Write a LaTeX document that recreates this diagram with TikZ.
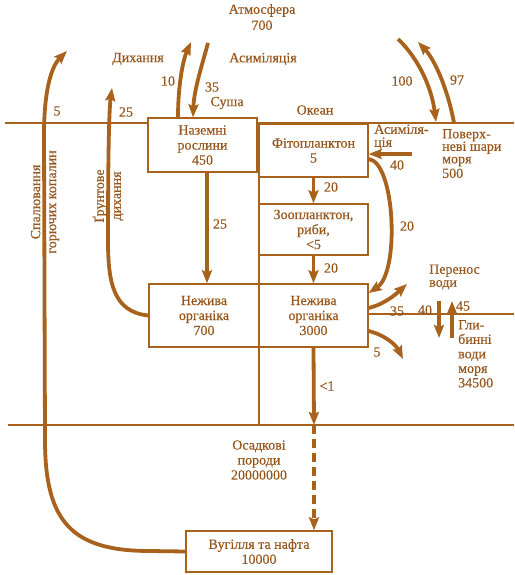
\documentclass[tikz,border=0pt]{standalone}
\usepackage{fontspec}
\setmainfont[FakeBold=0.4]{Liberation Serif}
\usetikzlibrary{arrows.meta}
\definecolor{lc}{RGB}{168,98,28}
\definecolor{tc}{RGB}{150,86,28}
\begin{document}
\begin{tikzpicture}[x=1pt,y=-1pt,
  font=\fontsize{14}{15}\selectfont,
  box/.style={draw=lc,line width=1.3pt,fill=white,align=center,inner sep=0pt,text=tc},
  lbl/.style={text=tc,inner sep=0pt,align=center},
  thinline/.style={draw=lc,line width=1.3pt},
  flow/.style={draw=lc,line width=3.8pt,-{Stealth[length=13pt,width=10pt,inset=2pt]}},
  dflow/.style={flow,dash pattern=on 9pt off 5pt}]
\useasboundingbox (0,0) rectangle (514,575);
% frame lines
\draw[thinline] (5,123) -- (514,123);
\draw[thinline] (259,123) -- (259,425);
\draw[thinline] (8,425) -- (514,425);
\draw[thinline] (368,314) -- (514,314);
% boxes
\node[box,minimum width=109pt,minimum height=54pt] (land) at (202.5,145) {Наземні\\рослини\\450};
\node[box,minimum width=109pt,minimum height=53pt] (phyto) at (313.5,150.5) {Фітопланктон\\5};
\node[box,minimum width=109pt,minimum height=51pt] (zoo) at (313.5,229.5) {Зоопланктон,\\риби,\\<5};
\node[box,minimum width=109pt,minimum height=63pt] (nlo) at (313.5,315.5) {Нежива\\органіка\\3000};
\node[box,minimum width=110pt,minimum height=63pt] (nll) at (204,315.5) {Нежива\\органіка\\700};
\node[box,minimum width=146pt,minimum height=41pt] (coal) at (259,551.5) {Вугілля та нафта\\10000};
% free-end coordinates
\coordinate (a10) at (191,42);
\coordinate (a35) at (208,43);
\coordinate (o100s) at (398,39);
\coordinate (o100e) at (436,122);
\coordinate (o97s) at (454,123);
\coordinate (o97e) at (418,42);
\coordinate (as40) at (412,154);
\coordinate (sed) at (314,425);
\coordinate (up35) at (407,284);
\coordinate (dn5) at (403,359);
\coordinate (w40s) at (439,301);
\coordinate (w40e) at (439,338);
\coordinate (w45s) at (452,338);
\coordinate (w45e) at (452,301);
\coordinate (soil) at (112,88);
\coordinate (burn) at (67,51);
% flows
\draw[flow] ([xshift=-24.5pt]land.north) .. controls (178,85) and (183,60) .. (a10);
\draw[flow] (a35) .. controls (202,65) and (194,90) .. ([xshift=-9.5pt]land.north);
\draw[flow] (o100s) .. controls (420,60) and (432,90) .. (o100e);
\draw[flow] (o97s) .. controls (448,90) and (435,60) .. (o97e);
\draw[flow] ([xshift=4.5pt]land.south) -- ([xshift=3pt]nll.north);
\draw[flow] (phyto.south) -- (zoo.north);
\draw[flow] (zoo.south) -- (nlo.north);
\draw[flow] (nlo.south) -- (sed);
\draw[dflow] (sed) -- ([xshift=55pt]coal.north);
\draw[flow] (as40) -- ([yshift=-3.5pt]phyto.east);
\draw[flow] ([yshift=-8.5pt]phyto.east) .. controls (395,162) and (400,272) .. ([yshift=22.5pt]nlo.east);
\draw[flow] ([yshift=7.5pt]nlo.east) .. controls (385,304) and (396,294) .. (up35);
\draw[flow] ([yshift=-15.5pt]nlo.east) .. controls (385,335) and (396,345) .. (dn5);
\draw[flow] (w40s) -- (w40e);
\draw[flow] (w45s) -- (w45e);
\draw[flow] (nll.west) .. controls (113,312) and (108,282) .. (108,240) .. controls (108,160) and (109,110) .. (soil);
\draw[flow] (coal.west) -- (150,551) .. controls (72,551) and (45,522) .. (45,440) -- (44,135) .. controls (44,95) and (50,68) .. (burn);
% labels
\node[lbl] (atm) at (262,17) {Атмосфера\\[1pt]700};
\node[lbl] (resp) at (138,59) {Дихання};
\node[lbl] (assim) at (263,59) {Асиміляція};
\node[lbl] (l10) at (168,81) {10};
\node[lbl] (l35) at (212,87) {35};
\node[lbl] (land_l) at (227,103) {Суша};
\node[lbl] (l5a) at (57,111) {5};
\node[lbl] (l25a) at (126,112) {25};
\node[lbl] (ocean) at (315,110) {Океан};
\node[lbl] (l100) at (402,81) {100};
\node[lbl] (l97) at (457,80) {97};
\node[lbl,align=left,anchor=west,font=\fontsize{14}{13}\selectfont] (oas) at (374,137) {Асиміля-\\ція};
\node[lbl] (l40a) at (397,165) {40};
\node[lbl,align=left,anchor=north west,font=\fontsize{14}{12.5}\selectfont] (surf) at (442,129) {Поверх-\\неві шари\\моря\\[2pt]500};
\node[lbl] (l20a) at (331,187) {20};
\node[lbl] (l20b) at (331,268) {20};
\node[lbl] (l20c) at (407,226) {20};
\node[lbl] (l25b) at (220,224) {25};
\node[lbl] (l1) at (327,386) {<1};
\node[lbl,align=left,anchor=west,font=\fontsize{14}{13}\selectfont] (transfer) at (429,277) {Перенос\\води};
\node[lbl] (l35b) at (397,311) {35};
\node[lbl] (l40b) at (425,310) {40};
\node[lbl] (l45) at (463,306) {45};
\node[lbl] (l5b) at (377,352) {5};
\node[lbl,align=left,anchor=north west,font=\fontsize{14}{14.5}\selectfont] (deep) at (458,320) {Гли-\\бинні\\води\\моря\\34500};
\node[lbl] (sedl) at (259,460) {Осадкові\\породи\\20000000};
\node[lbl,rotate=90,font=\fontsize{14}{16}\selectfont] (burnl) at (45,202) {Спалювання\\горючих копалин};
\node[lbl,rotate=90,font=\fontsize{14}{17}\selectfont] (soill) at (108,196) {Ґрунтове\\дихання};
\end{tikzpicture}
\end{document}
